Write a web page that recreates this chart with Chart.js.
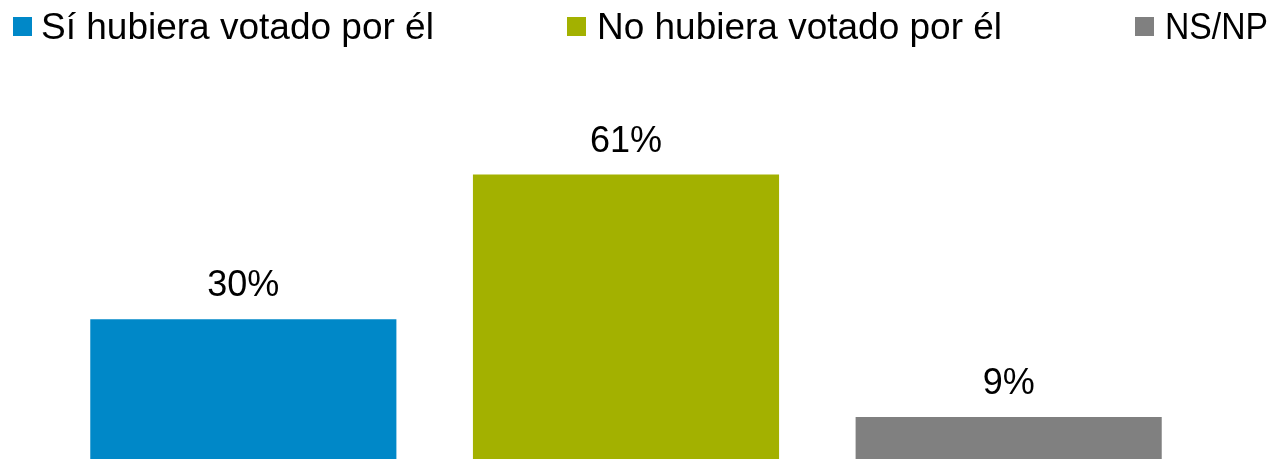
<!DOCTYPE html>
<html>
<head>
<meta charset="utf-8">
<script src="https://cdn.jsdelivr.net/npm/chart.js@4/dist/chart.umd.min.js"></script>
<style>
html,body{margin:0;padding:0;background:#fff;}
#wrap{width:1276px;height:459px;position:relative;}
</style>
</head>
<body>
<div id="wrap"><canvas id="c"></canvas></div>
<script>
const categories = ["Sí hubiera votado por él", "No hubiera votado por él", "NS/NP"];
const values = [30, 61, 9];
const colors = ["#0088C8", "#A3B100", "#808080"];
const FONT = "'Liberation Sans', Arial, sans-serif";

const datasets = categories.map((name, i) => ({
  label: name,
  data: values.map((v, j) => (j === i ? v : null)),
  backgroundColor: colors[i],
  borderWidth: 0,
  grouped: false,
  categoryPercentage: 1.0,
  barPercentage: 0.8
}));

const legendBoxX = [13, 567, 1135];
const legendTextX = [41, 597, 1165];
const legendTextW = [394, 405, 103];

const customPlugin = {
  id: 'custom',
  afterDatasetsDraw(chart) {
    const ctx = chart.ctx;
    ctx.save();
    // data labels
    ctx.font = "36px " + FONT;
    ctx.fillStyle = "#000";
    ctx.textAlign = "center";
    ctx.textBaseline = "alphabetic";
    chart.data.datasets.forEach((ds, di) => {
      const meta = chart.getDatasetMeta(di);
      meta.data.forEach((el, idx) => {
        const v = ds.data[idx];
        if (v === null || v === undefined) return;
        ctx.fillText(v + "%", el.x, el.y - 23);
      });
    });
    // legend
    ctx.font = "37px " + FONT;
    ctx.textAlign = "left";
    chart.data.datasets.forEach((ds, di) => {
      ctx.fillStyle = ds.backgroundColor;
      ctx.fillRect(legendBoxX[di], 17, 19, 19);
      ctx.fillStyle = "#000";
      ctx.fillText(ds.label, legendTextX[di], 39, legendTextW[di]);
    });
    ctx.restore();
  }
};

new Chart(document.getElementById('c'), {
  type: 'bar',
  data: { labels: categories, datasets: datasets },
  options: {
    responsive: true,
    maintainAspectRatio: false,
    animation: false,
    layout: { padding: { top: 86, left: 52, right: 76, bottom: 0 } },
    plugins: { legend: { display: false }, tooltip: { enabled: false } },
    scales: {
      x: { display: false, stacked: false },
      y: { display: false, min: 0, max: 80 }
    }
  },
  plugins: [customPlugin]
});
</script>
</body>
</html>
